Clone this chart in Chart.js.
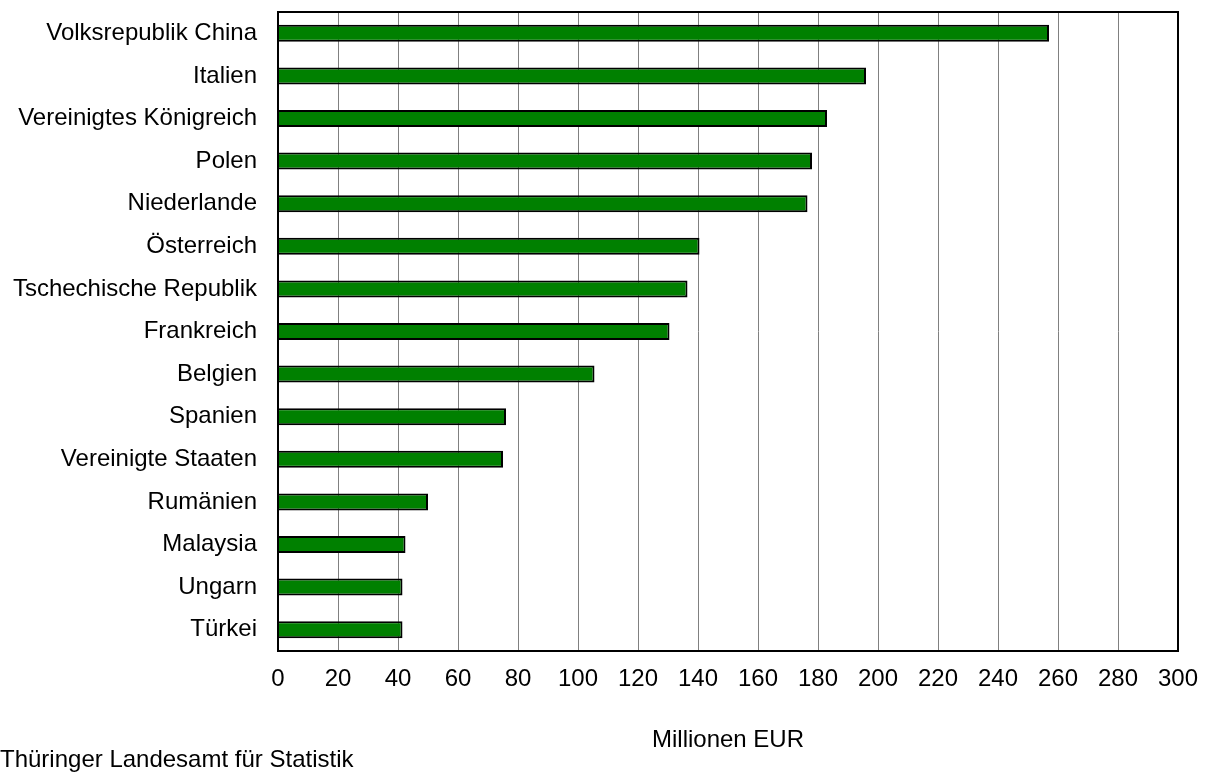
<!DOCTYPE html>
<html>
<head>
<meta charset="utf-8">
<script src="https://cdn.jsdelivr.net/npm/chart.js@4/dist/chart.umd.min.js"></script>
<style>
  html, body { margin: 0; padding: 0; background: #fff; }
  canvas { display: block; }
</style>
</head>
<body>
<canvas id="exports" width="1205" height="774"></canvas>
<script>
const countries = [
  'Volksrepublik China', 'Italien', 'Vereinigtes Königreich', 'Polen', 'Niederlande',
  'Österreich', 'Tschechische Republik', 'Frankreich', 'Belgien', 'Spanien',
  'Vereinigte Staaten', 'Rumänien', 'Malaysia', 'Ungarn', 'Türkei'
];
const values = [257, 196, 183, 178, 176.5, 140.5, 136.5, 130.5, 105.5, 76, 75, 50, 42.5, 41.5, 41.5];
const xTicks = [0, 20, 40, 60, 80, 100, 120, 140, 160, 180, 200, 220, 240, 260, 280, 300];

const font = { family: '"Liberation Sans", Arial, sans-serif', size: 24 };

// black frame round the plot area
const frame = {
  id: 'frame',
  afterDatasetsDraw(chart) {
    const { ctx, chartArea: a } = chart;
    ctx.save();
    ctx.strokeStyle = '#000';
    ctx.lineWidth = 2;
    ctx.strokeRect(a.left, a.top, a.right - a.left, a.bottom - a.top);
    ctx.restore();
  }
};

new Chart(document.getElementById('exports').getContext('2d'), {
  type: 'bar',
  data: {
    labels: countries,
    datasets: [{
      data: values,
      backgroundColor: '#008000',
      borderColor: '#000',
      borderWidth: 2,
      categoryPercentage: 1,
      barPercentage: 0.4
    }]
  },
  options: {
    indexAxis: 'y',
    responsive: false,
    animation: false,
    devicePixelRatio: 1,
    layout: { padding: { top: 12, right: 27, left: 0, bottom: 0 } },
    scales: {
      x: {
        min: 0,
        max: 300,
        afterBuildTicks(scale) { scale.ticks = xTicks.map(v => ({ value: v })); },
        afterFit(scale) {
          scale.height = 97;
          scale.paddingLeft = 0;
          scale.paddingRight = 0;
        },
        grid: { color: '#808080', lineWidth: 1, drawTicks: false },
        border: { display: false },
        ticks: { color: '#000', font, padding: 14 },
        title: {
          display: true,
          text: 'Millionen EUR',
          color: '#000',
          font: { ...font, lineHeight: 1 },
          padding: { top: 0, bottom: -4 }
        }
      },
      y: {
        grid: { display: false, drawTicks: false },
        border: { display: false },
        ticks: { color: '#000', font, padding: 21 },
        afterFit(scale) {
          scale.width = 278;
          scale.paddingTop = 0;
          scale.paddingBottom = 0;
        }
      }
    },
    plugins: {
      legend: { display: false },
      tooltip: { enabled: false },
      title: {
        display: true,
        position: 'bottom',
        align: 'start',
        text: 'Thüringer Landesamt für Statistik',
        color: '#000',
        font: { ...font, weight: 'normal', lineHeight: 1 },
        padding: { top: 0, bottom: 2 }
      }
    }
  },
  plugins: [frame]
});
</script>
</body>
</html>
